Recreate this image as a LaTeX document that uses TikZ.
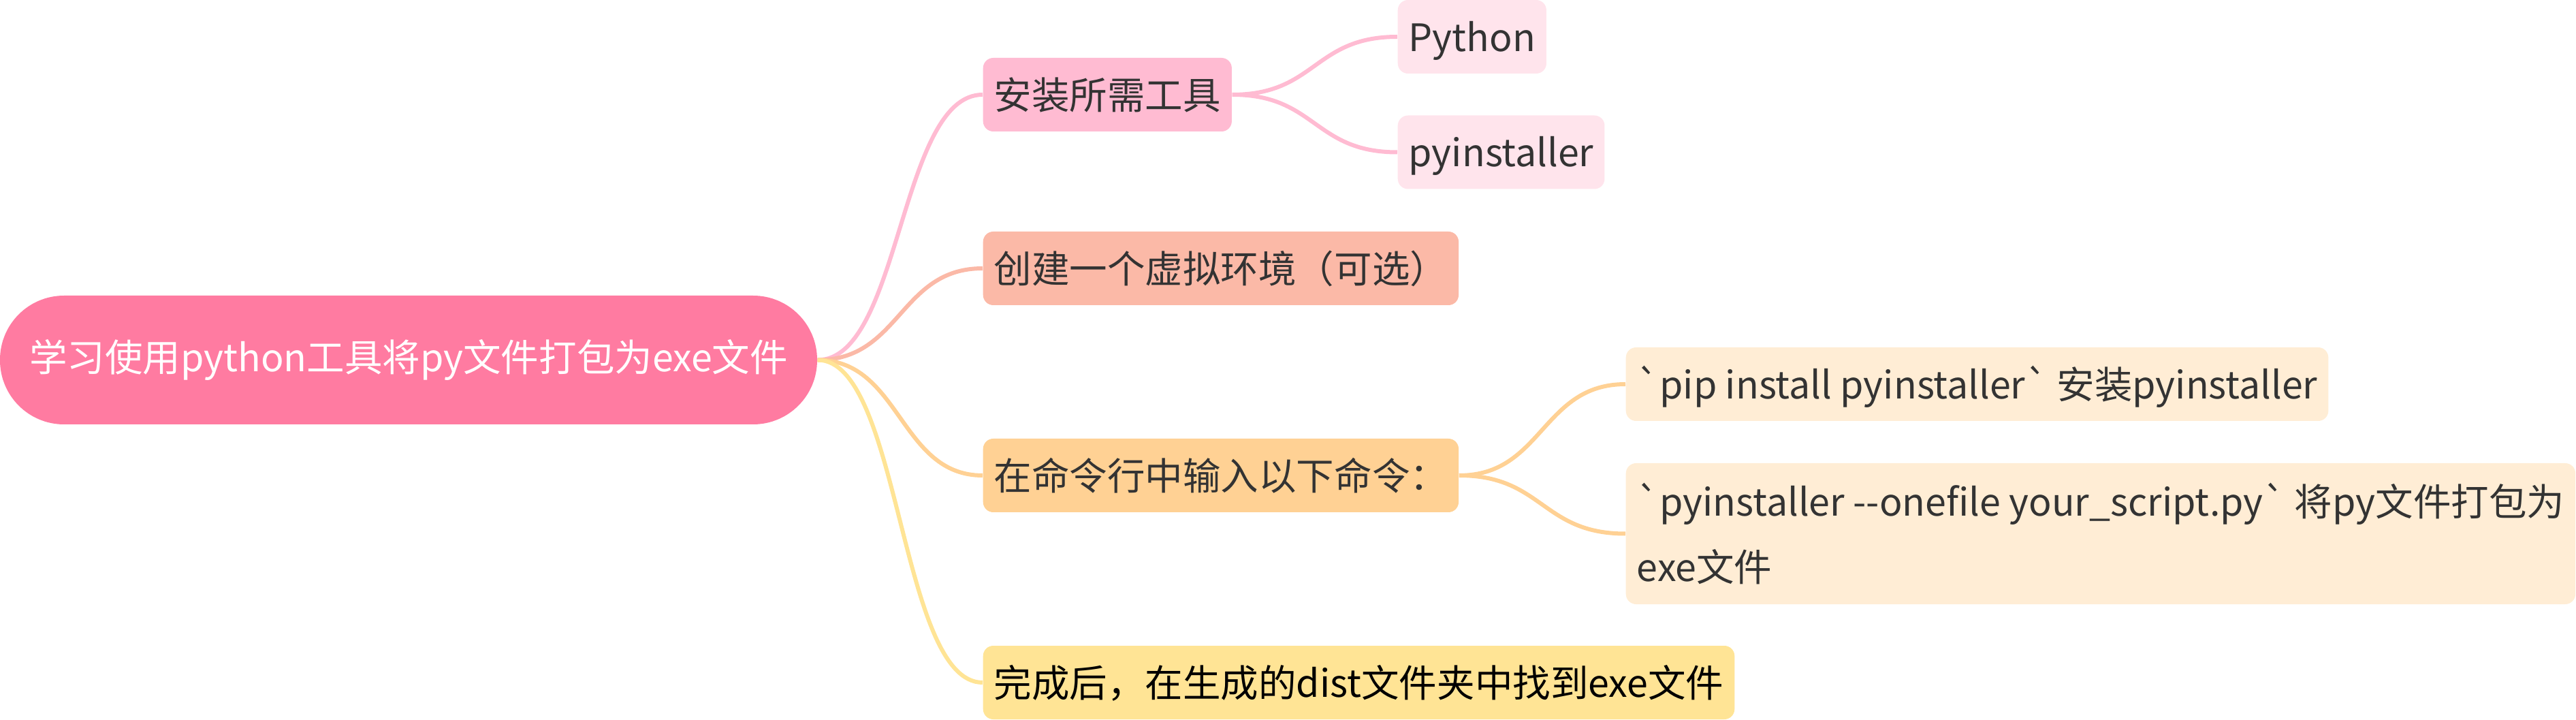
\documentclass[tikz,border=0pt]{standalone}
\usepackage{fontspec}
\setmainfont{Noto Sans CJK SC}[Ligatures=TeXOff]
\definecolor{rootpink}{HTML}{FF7BA1}
\definecolor{toolpink}{HTML}{FFBBD2}
\definecolor{leafpink}{HTML}{FFE4EC}
\definecolor{venvsalmon}{HTML}{FBB9A7}
\definecolor{cmdorange}{HTML}{FFD194}
\definecolor{leaforange}{HTML}{FFEDD5}
\definecolor{doneyellow}{HTML}{FFE495}
\definecolor{textgray}{HTML}{333333}
\begin{document}
\begin{tikzpicture}
      [every node/.style={font=\fontsize{15.8pt}{0.96cm}\selectfont},
       topic/.style={anchor=west, rounded corners=0.15cm, inner xsep=0.16cm, inner ysep=0pt, text=textgray},
       oneline/.style={topic, text height=0.754cm, text depth=0.326cm},
       link/.style={line width=0.06cm}]
      \useasboundingbox (0,0) rectangle (37.83,-10.57);
      \node[fill=rootpink, text=white, rounded corners=0.94cm, minimum width=12cm, minimum height=1.89cm, inner sep=0pt](root) at (6,-5.285) {学习使用python工具将py文件打包为exe文件};
      \node[oneline, fill=toolpink](tools) at (14.43,-1.39) {安装所需工具};
      \node[oneline, fill=venvsalmon](venv) at (14.43,-3.94) {创建一个虚拟环境（可选）};
      \node[oneline, fill=cmdorange](cmd) at (14.43,-6.98) {在命令行中输入以下命令：};
      \node[oneline, fill=doneyellow, text=black](done) at (14.43,-10.02) {完成后，在生成的dist文件夹中找到exe文件};
      \node[oneline, fill=leafpink](python) at (20.52,-0.54) {Python};
      \node[oneline, fill=leafpink](pyinst) at (20.52,-2.235) {pyinstaller};
      \node[oneline, fill=leaforange](pipcmd) at (23.87,-5.64) {\textasciigrave pip install pyinstaller\textasciigrave{} 安装pyinstaller};
      \node[topic, fill=leaforange, align=left, minimum height=2.07cm](onefile) at (23.87,-7.835) {\textasciigrave pyinstaller --onefile your\_script.py\textasciigrave{} 将py文件打包为\\exe文件};
      % branches from the centre
      \draw[link, toolpink](root.east) .. controls +(1.22,0) and +(-1.22,0) .. (tools.west);
      \draw[link, venvsalmon](root.east) .. controls +(1.22,0) and +(-1.22,0) .. (venv.west);
      \draw[link, cmdorange](root.east) .. controls +(1.22,0) and +(-1.22,0) .. (cmd.west);
      \draw[link, doneyellow](root.east) .. controls +(1.22,0) and +(-1.22,0) .. (done.west);
      % leaves
      \draw[link, toolpink](tools.east) .. controls +(1.23,0) and +(-1.23,0) .. (python.west);
      \draw[link, toolpink](tools.east) .. controls +(1.23,0) and +(-1.23,0) .. (pyinst.west);
      \draw[link, cmdorange](cmd.east) .. controls +(1.23,0) and +(-1.23,0) .. (pipcmd.west);
      \draw[link, cmdorange](cmd.east) .. controls +(1.23,0) and +(-1.23,0) .. (onefile.west);
\end{tikzpicture}
\end{document}
